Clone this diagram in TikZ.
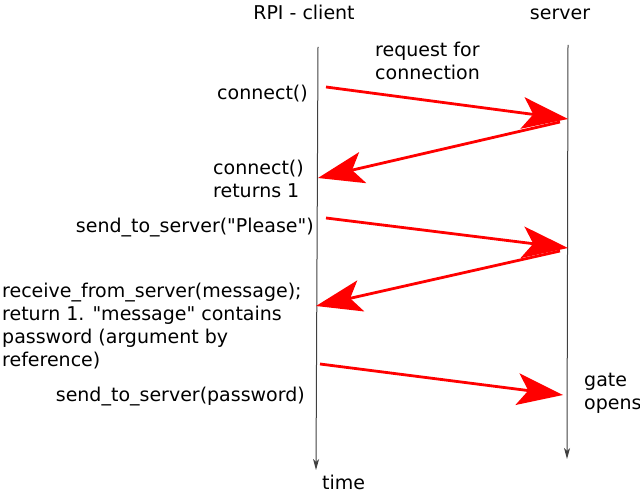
\documentclass[tikz,border=0pt]{standalone}
\usepackage{fontspec}
\setmainfont{DejaVu Sans}
\usetikzlibrary{arrows.meta}
\begin{document}
\begin{tikzpicture}[x=1pt,y=-1pt,
  lbl/.style={inner sep=0pt,font=\fontsize{19}{23}\selectfont,align=left},
  lifeline/.style={draw=black!75,line width=1pt,-{Stealth[length=11pt,width=6pt,inset=3pt]}},
  msg/.style={draw=red,line width=2.8pt,-{Stealth[length=46pt,width=32pt,inset=11pt,line width=0pt]}}]
\useasboundingbox (0,0) rectangle (640,494);
% lifelines
\coordinate (c0) at (318,47);
\coordinate (c1) at (316,470);
\coordinate (s0) at (568,45);
\coordinate (s1) at (567,459);
\draw[lifeline] (c0) -- (c1);
\draw[lifeline] (s0) -- (s1);
% message endpoints
\coordinate (a1) at (326,87);
\coordinate (b1) at (568,119);
\coordinate (b2) at (560,122);
\coordinate (a2) at (318,178);
\coordinate (a3) at (326,218);
\coordinate (b3) at (568,248);
\coordinate (b4) at (560,251);
\coordinate (a4) at (316,306);
\coordinate (a5) at (320,364);
\coordinate (b5) at (563,395);
\draw[msg] (a1) -- (b1);
\draw[msg] (b2) -- (a2);
\draw[msg] (a3) -- (b3);
\draw[msg] (b4) -- (a4);
\draw[msg] (a5) -- (b5);
% labels
\node[lbl,anchor=center] (t1) at (304,12) {RPI - client};
\node[lbl,anchor=center] (t2) at (560,14) {server};
\node[lbl,anchor=north west] (t3) at (375,42) {request for\\connection};
\node[lbl,anchor=east] (t4) at (308,94) {connect()};
\node[lbl,anchor=north west] (t5) at (213,160) {connect()\\returns 1};
\node[lbl,anchor=east] (t6) at (314,228) {send\_to\_server(\textquotedbl Please\textquotedbl)};
\node[lbl,anchor=north west] (t7) at (2,283) {receive\_from\_server(message);\\return 1. \textquotedbl message\textquotedbl{} contains\\password (argument by\\reference)};
\node[lbl,anchor=east] (t8) at (305,397) {send\_to\_server(password)};
\node[lbl,anchor=north west] (t9) at (584,373) {gate\\opens};
\node[lbl,anchor=west] (t10) at (322,482) {time};
\end{tikzpicture}
\end{document}
